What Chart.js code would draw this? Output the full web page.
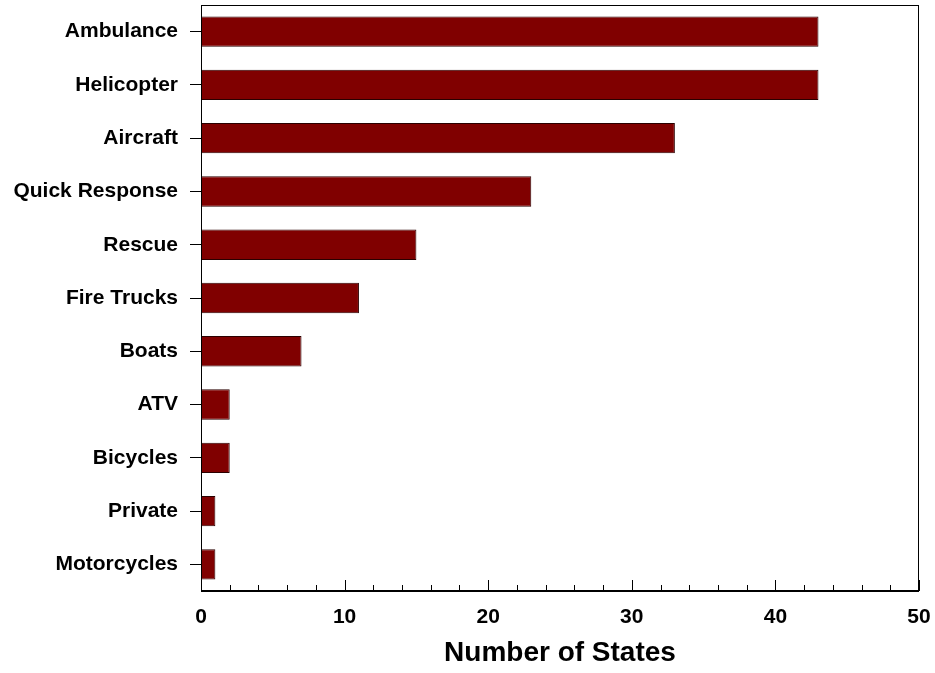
<!DOCTYPE html>
<html>
<head>
<meta charset="utf-8">
<script src="https://cdn.jsdelivr.net/npm/chart.js@4/dist/chart.umd.min.js"></script>
<style>
  html, body { margin: 0; padding: 0; background: #fff; }
  #wrap { width: 935px; height: 673px; }
</style>
</head>
<body>
<div id="wrap"><canvas id="c" width="935" height="673"></canvas></div>
<script>
// categories top to bottom
var vehicleTypes = ["Ambulance", "Helicopter", "Aircraft", "Quick Response", "Rescue",
  "Fire Trucks", "Boats", "ATV", "Bicycles", "Private", "Motorcycles"];
var stateCounts = [43, 43, 33, 23, 15, 11, 7, 2, 2, 1, 1];
var xTickValues = [0, 10, 20, 30, 40, 50];
var xMinorStep = 2;

// frame + inward ticks on bottom axis
var frameTicks = {
  id: "frameTicks",
  afterDraw: function(chart) {
    var ctx = chart.ctx, a = chart.chartArea, xs = chart.scales.x;
    ctx.save();
    ctx.strokeStyle = "#000";
    ctx.lineWidth = 1;
    ctx.strokeRect(a.left + 0.5, a.top + 0.5, a.right - a.left - 1, a.bottom - a.top);
    ctx.lineWidth = 2;
    ctx.beginPath();
    ctx.moveTo(a.left, a.bottom);
    ctx.lineTo(a.right, a.bottom);
    ctx.stroke();
    ctx.lineWidth = 1;
    ctx.beginPath();
    for (var v = xs.min; v <= xs.max; v += xMinorStep) {
      var px = Math.round(xs.getPixelForValue(v)) + 0.5;
      var len = xTickValues.indexOf(v) >= 0 ? 11 : 6;
      ctx.moveTo(px, a.bottom);
      ctx.lineTo(px, a.bottom - len);
    }
    ctx.stroke();
    ctx.restore();
  }
};

function noPad(s) {
  s.paddingLeft = 0; s.paddingRight = 0; s.paddingTop = 0; s.paddingBottom = 0;
}

new Chart(document.getElementById("c"), {
  type: "bar",
  data: {
    labels: vehicleTypes,
    datasets: [{
      data: stateCounts,
      backgroundColor: "#800000",
      borderColor: "#2a0000",
      borderWidth: 1,
      borderSkipped: "left",
      barPercentage: 0.57,
      categoryPercentage: 1.0
    }]
  },
  options: {
    indexAxis: "y",
    responsive: false,
    animation: false,
    layout: { padding: { top: 5, right: 16, left: 0, bottom: 0 } },
    plugins: { legend: { display: false }, tooltip: { enabled: false } },
    scales: {
      x: {
        min: 0, max: 50,
        afterFit: function(s) { s.height = 82; noPad(s); },
        grid: { display: false },
        border: { display: false },
        ticks: {
          stepSize: 10,
          padding: 6,
          color: "#000",
          font: { family: "Liberation Sans, Arial, sans-serif", size: 21, weight: "bold" }
        },
        title: {
          display: true,
          text: "Number of States",
          color: "#000",
          padding: { top: 0, bottom: 3 },
          font: { family: "Liberation Sans, Arial, sans-serif", size: 28, weight: "bold" }
        }
      },
      y: {
        afterFit: function(s) { s.width = 201; noPad(s); },
        grid: { drawOnChartArea: false, offset: false, tickLength: 11, color: "#000", lineWidth: 1 },
        border: { display: false },
        ticks: {
          padding: 12,
          color: "#000",
          font: { family: "Liberation Sans, Arial, sans-serif", size: 21, weight: "bold" }
        }
      }
    }
  },
  plugins: [frameTicks]
});
</script>
</body>
</html>
